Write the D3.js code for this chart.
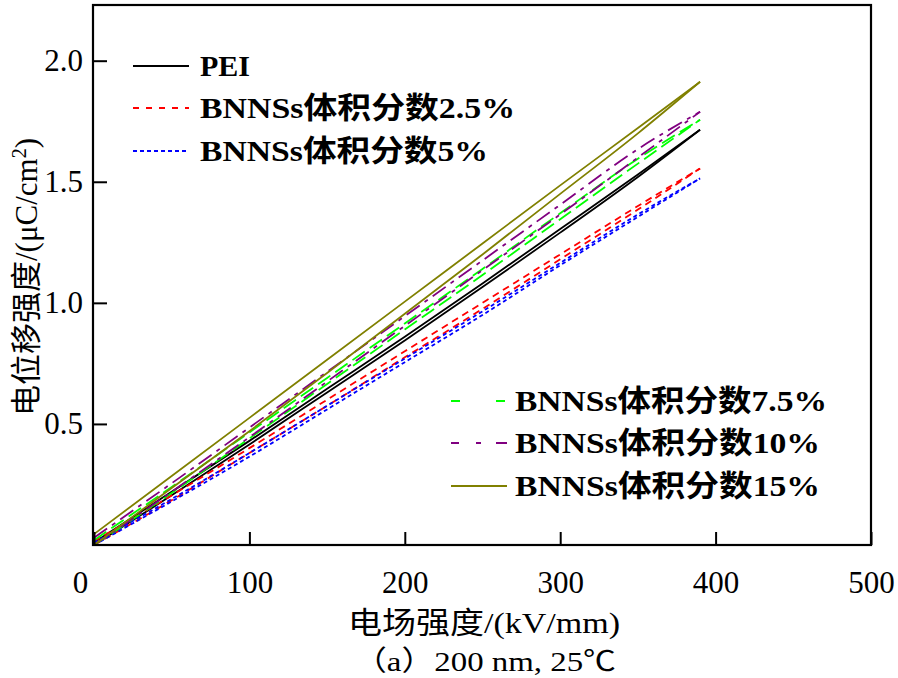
<!DOCTYPE html>
<html>
<head>
<meta charset="utf-8">
<script src="https://cdn.jsdelivr.net/npm/d3@7"></script>
<style>
  html, body { margin: 0; padding: 0; background: #fff; }
  svg text { font-family: "Liberation Serif", "Times New Roman", "Noto Sans CJK SC", serif; fill: #000; }
</style>
</head>
<body>
<svg id="chart" width="898" height="678"></svg>
<script>
// ---- data ----
const fieldE = [0, 50, 100, 150, 200, 250, 300, 350, 390]; // kV/mm
const seriesNames = ["PEI", "BNNSs体积分数2.5%", "BNNSs体积分数5%", "BNNSs体积分数7.5%", "BNNSs体积分数10%", "BNNSs体积分数15%"];
const peiCharge      = [0, 0.205, 0.415, 0.63, 0.845, 1.065, 1.29, 1.52, 1.715];
const peiDischarge   = [0.01, 0.22, 0.43, 0.645, 0.86, 1.08, 1.305, 1.53, 1.715];
const bn25Charge     = [0, 0.185, 0.38, 0.575, 0.775, 0.975, 1.18, 1.385, 1.555];
const bn25Discharge  = [0.015, 0.205, 0.40, 0.60, 0.80, 1.0, 1.2, 1.40, 1.555];
const bn5Charge      = [0, 0.18, 0.365, 0.56, 0.755, 0.95, 1.155, 1.355, 1.514];
const bn5Discharge   = [0.01, 0.19, 0.38, 0.575, 0.77, 0.965, 1.165, 1.365, 1.514];
const bn75Charge     = [0, 0.215, 0.44, 0.665, 0.89, 1.115, 1.345, 1.575, 1.756];
const bn75Discharge  = [0.02, 0.24, 0.465, 0.69, 0.915, 1.14, 1.37, 1.595, 1.756];
const bn10Charge     = [0, 0.22, 0.445, 0.675, 0.905, 1.135, 1.365, 1.60, 1.789];
const bn10Discharge  = [0.03, 0.255, 0.485, 0.715, 0.945, 1.175, 1.405, 1.635, 1.789];
const bn15Charge     = [0, 0.235, 0.47, 0.71, 0.955, 1.20, 1.45, 1.70, 1.913];
const bn15Discharge  = [0.045, 0.285, 0.525, 0.765, 1.005, 1.245, 1.485, 1.722, 1.913];
const xTicks = [0, 100, 200, 300, 400, 500];
const yTicks = [0.5, 1.0, 1.5, 2.0];

// ---- styles ----
const styles = [
  { color: "#000000", dash: null,          legendDash: null },
  { color: "#ff0000", dash: "7,5",         legendDash: "6,7" },
  { color: "#0000ff", dash: "4,3",         legendDash: "4,3" },
  { color: "#00ff00", dash: "15,6",        legendDash: "9,36" },
  { color: "#800080", dash: "16,6,4,6",    legendDash: "8,17,5,15,12" },
  { color: "#808000", dash: null,          legendDash: null }
];
const charges = [peiCharge, bn25Charge, bn5Charge, bn75Charge, bn10Charge, bn15Charge];
const discharges = [peiDischarge, bn25Discharge, bn5Discharge, bn75Discharge, bn10Discharge, bn15Discharge];

const svg = d3.select("#chart");
const L = 94, R = 871, T = 5, B = 545;
const x = d3.scaleLinear().domain([0, 500]).range([L, R]);
const y = d3.scaleLinear().domain([0, 2.23]).range([B, T]);

// data loops: charge and discharge branches
const line = d3.line().x(d => x(d[0])).y(d => y(d[1])).curve(d3.curveMonotoneX);
const plot = svg.append("g");
charges.forEach((c, i) => {
  [c, discharges[i]].forEach(branch => {
    plot.append("path")
      .attr("d", line(fieldE.map((e, k) => [e, branch[k]])))
      .attr("fill", "none")
      .attr("stroke", styles[i].color)
      .attr("stroke-width", 1.8)
      .attr("stroke-dasharray", styles[i].dash);
  });
});

// axes
const xAxis = svg.append("g").attr("transform", `translate(0,${B})`)
  .call(d3.axisBottom(x).tickValues(xTicks).tickSizeInner(-13).tickSizeOuter(0).tickPadding(26).tickFormat(d3.format("d")));
xAxis.select(".domain").remove();
xAxis.selectAll("line").attr("stroke", "#000").attr("stroke-width", 2);
xAxis.selectAll("text").attr("font-size", 31).attr("fill", "#000")
  .attr("dx", d => d === 0 ? -14 : 0);

const yAxis = svg.append("g").attr("transform", `translate(${L},0)`)
  .call(d3.axisLeft(y).tickValues(yTicks).tickSizeInner(-13).tickSizeOuter(0).tickPadding(11).tickFormat(d3.format(".1f")));
yAxis.select(".domain").remove();
yAxis.selectAll("line").attr("stroke", "#000").attr("stroke-width", 2);
yAxis.selectAll("text").attr("font-size", 31).attr("fill", "#000");

// frame
svg.append("rect").attr("x", L - 1).attr("y", T).attr("width", R - L + 1).attr("height", B - T)
  .attr("fill", "none").attr("stroke", "#000").attr("stroke-width", 2.2);

// axis titles
svg.append("text").attr("x", 484).attr("y", 633).attr("text-anchor", "middle")
  .attr("font-size", 30).attr("textLength", 272).attr("lengthAdjust", "spacingAndGlyphs")
  .text("电场强度/(kV/mm)");
svg.append("text").attr("x", 485).attr("y", 671).attr("text-anchor", "middle")
  .attr("font-size", 28).attr("textLength", 262).attr("lengthAdjust", "spacingAndGlyphs")
  .text("（a）200 nm, 25℃");
const yt = svg.append("text").attr("transform", "translate(37,277) rotate(-90)")
  .attr("text-anchor", "middle").attr("font-size", 31);
yt.append("tspan").text("电位移强度/(μC/cm");
yt.append("tspan").attr("font-size", 20).attr("dy", -11).text("2");
yt.append("tspan").attr("dy", 11).text(")");

// legends
const legendPos = [
  { lx: 133, ly: 66, tx: 200, w: 50 },
  { lx: 133, ly: 108, tx: 200, w: 315 },
  { lx: 133, ly: 151, tx: 200, w: 288 },
  { lx: 451, ly: 401, tx: 515, w: 312 },
  { lx: 451, ly: 443, tx: 515, w: 305 },
  { lx: 451, ly: 486, tx: 515, w: 305 }
];
seriesNames.forEach((name, i) => {
  const p = legendPos[i];
  svg.append("line").attr("x1", p.lx).attr("x2", p.lx + 56).attr("y1", p.ly).attr("y2", p.ly)
    .attr("stroke", styles[i].color).attr("stroke-width", 2)
    .attr("stroke-dasharray", styles[i].legendDash);
  svg.append("text").attr("x", p.tx).attr("y", p.ly + 10)
    .attr("font-size", 30).attr("font-weight", "bold")
    .attr("textLength", p.w).attr("lengthAdjust", "spacingAndGlyphs")
    .text(name);
});
</script>
</body>
</html>
